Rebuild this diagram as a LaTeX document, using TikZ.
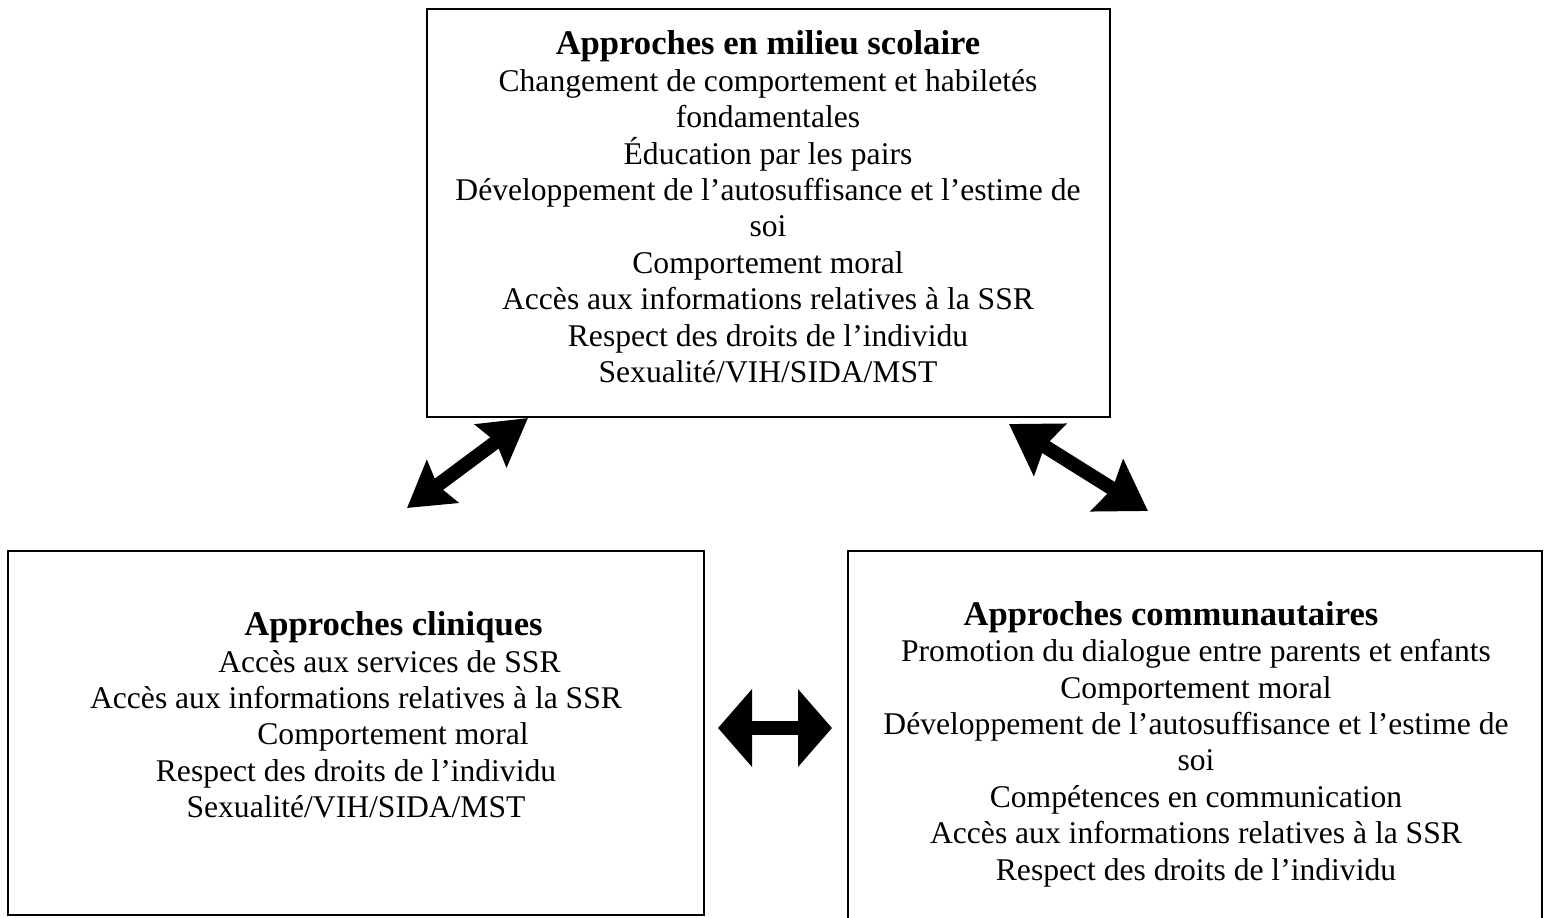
\documentclass[tikz,border=0pt]{standalone}
\usepackage{fontspec}
\setmainfont{Liberation Serif}
\usetikzlibrary{arrows.meta}
\newcommand\ttlfont{\fontsize{17.3}{18.2}\selectfont\bfseries}
\begin{document}
\begin{tikzpicture}[x=0.5pt,y=-0.5pt,
  box/.style={draw,line width=1.2pt,inner sep=0pt},
  txt/.style={align=center,font=\fontsize{15.8}{18.2}\selectfont,inner sep=0pt},
  dbl/.style={line width=7pt}
]
\clip (0,0) rectangle (1544,917);
\useasboundingbox (0,0) rectangle (1544,917);
% boxes
\node[box,minimum width=341.5pt,minimum height=204pt] (top) at (768.5,213) {};
\node[box,minimum width=348pt,minimum height=182pt] (left) at (356,733) {};
\node[box,minimum width=347pt,minimum height=192pt] (right) at (1195,743) {};
% texts
\node[txt] (toptxt) at (768,207) {{\ttlfont Approches en milieu scolaire}\\
Changement de comportement et habiletés\\
fondamentales\\
Éducation par les pairs\\
Développement de l’autosuffisance et l’estime de\\
soi\\
Comportement moral\\
Accès aux informations relatives à la SSR\\
Respect des droits de l’individu\\
Sexualité/VIH/SIDA/MST};
\node[txt] (lefttxt) at (356,715) {\hspace*{37.5pt}{\ttlfont Approches cliniques}\\
\hspace*{33.5pt}Accès aux services de SSR\\
Accès aux informations relatives à la SSR\\
\hspace*{37pt}Comportement moral\\
Respect des droits de l’individu\\
Sexualité/VIH/SIDA/MST};
\node[txt] (righttxt) at (1196,744) {\hspace*{-25pt}{\ttlfont Approches communautaires}\\
Promotion du dialogue entre parents et enfants\\
Comportement moral\\
Développement de l’autosuffisance et l’estime de\\
soi\\
Compétences en communication\\
Accès aux informations relatives à la SSR\\
Respect des droits de l’individu};
% arrows
\coordinate (a1s) at (528,418);
\coordinate (a1e) at (407,508);
\coordinate (a2s) at (1009,424);
\coordinate (a2e) at (1148,511);
\coordinate (a3s) at (718,728);
\coordinate (a3e) at (832,728);
\draw[dbl,{Stealth[length=22pt,width=26pt,inset=3pt]}-{Stealth[length=23pt,width=26pt,inset=3pt]}] (a1e) -- (a1s);
\draw[dbl,{Stealth[length=24pt,width=30pt,inset=3pt]}-{Stealth[length=24pt,width=30pt,inset=3pt]}] (a2s) -- (a2e);
\draw[dbl,{Stealth[length=17pt,width=38pt,inset=0pt]}-{Stealth[length=17pt,width=38pt,inset=0pt]}] (a3s) -- (a3e);
\end{tikzpicture}
\end{document}
